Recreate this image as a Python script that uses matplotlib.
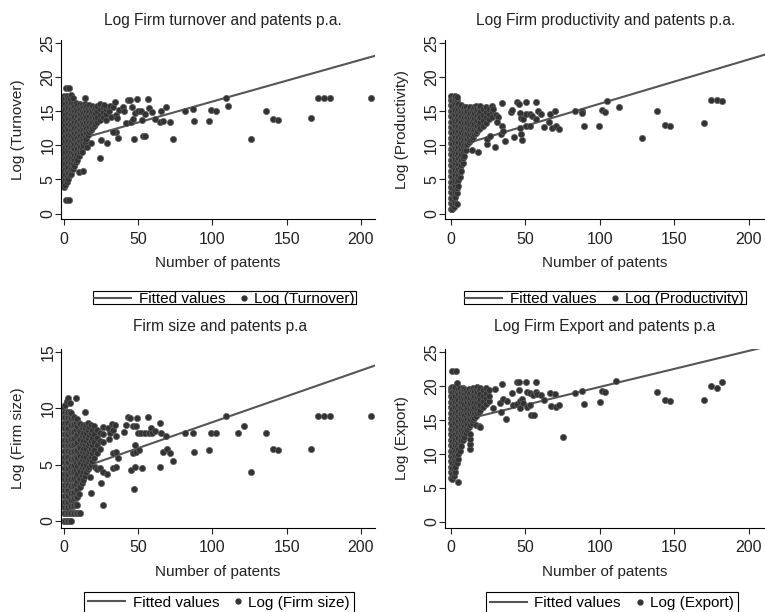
import matplotlib
matplotlib.use('Agg')
import matplotlib.pyplot as plt
from matplotlib.lines import Line2D
from matplotlib.patches import Rectangle
from matplotlib.legend_handler import HandlerBase

plt.rcParams['font.family'] = ['Liberation Sans', 'DejaVu Sans']

# ---- Log (Turnover) vs number of patents
# dense cloud near zero: (patents, [log values])
turnover_cloud = [
    (0, [3.9, 4.7, 5.5, 6.3, 7.1, 7.9, 8.7, 9.5, 10.3, 11.1, 11.9, 12.7, 13.5, 14.3, 15.1, 15.9, 16.6, 17.2]),
    (1, [4.2, 5.0, 5.8, 6.6, 7.4, 8.2, 9.0, 9.8, 10.6, 11.4, 12.2, 13.0, 13.8, 14.6, 15.4, 16.2, 16.9]),
    (2, [4.6, 5.4, 6.2, 7.0, 7.8, 8.6, 9.4, 10.2, 11.0, 11.8, 12.6, 13.4, 14.2, 15.0, 15.8, 16.6, 17.3]),
    (3, [5.1, 5.9, 6.7, 7.5, 8.3, 9.1, 9.9, 10.7, 11.5, 12.3, 13.1, 13.9, 14.7, 15.5, 16.3, 17.0]),
    (4, [5.6, 6.4, 7.2, 8.0, 8.8, 9.6, 10.4, 11.2, 12.0, 12.8, 13.6, 14.4, 15.2, 16.0, 16.8]),
    (5, [5.8, 6.6, 7.4, 8.2, 9.0, 9.8, 10.6, 11.4, 12.2, 13.0, 13.8, 14.6, 15.4, 16.2, 17.4]),
    (6, [6.5, 7.3, 8.1, 8.9, 9.7, 10.5, 11.3, 12.1, 12.9, 13.7, 14.5, 15.3, 16.1, 17.0]),
    (7, [7.0, 7.8, 8.6, 9.4, 10.2, 11.0, 11.8, 12.6, 13.4, 14.2, 15.0, 15.8]),
    (8, [7.5, 8.3, 9.1, 9.9, 10.7, 11.5, 12.3, 13.1, 13.9, 14.7, 15.5, 16.2]),
    (9, [7.9, 8.7, 9.5, 10.3, 11.1, 11.9, 12.7, 13.5, 14.3, 15.1, 15.9]),
    (10, [8.4, 9.2, 10.0, 10.8, 11.6, 12.4, 13.2, 14.0, 14.8, 15.6]),
    (11, [9.0, 9.8, 10.6, 11.4, 12.2, 13.0, 13.8, 14.6, 15.4, 16.1]),
    (12, [9.5, 10.3, 11.1, 11.9, 12.7, 13.5, 14.3, 15.1, 15.9]),
    (13, [10.0, 10.8, 11.6, 12.4, 13.2, 14.0, 14.8, 15.6]),
    (14, [10.5, 11.3, 12.1, 12.9, 13.7, 14.5, 15.3, 16.0]),
    (15, [11.0, 11.8, 12.6, 13.4, 14.2, 15.0, 15.8]),
    (16, [11.5, 12.3, 13.1, 13.9, 14.7, 15.5]),
    (17, [11.9, 12.7, 13.5, 14.3, 15.1, 15.9]),
    (18, [12.3, 13.1, 13.9, 14.7, 15.5]),
    (19, [12.6, 13.4, 14.2, 15.0, 15.8]),
    (20, [12.9, 13.7, 14.5, 15.3]),
    (21, [13.2, 14.0, 14.8, 15.6]),
    (22, [13.4, 14.2, 15.0, 15.8]),
    (24, [13.7, 14.5, 15.3, 16.0]),
    (26, [14.1, 14.9, 15.7]),
    (28, [14.6, 15.4]),
]
turnover_pts = [
    (1.1, 18.4), (3.4, 18.4), (1.6, 2.0), (3.1, 2.0), (14.4, 17.0), (10.1, 6.1),
    (12.6, 6.3), (12.4, 9.1), (15.5, 9.8), (18.2, 10.4), (24.0, 8.2), (25.2, 10.8),
    (29.0, 10.3), (28.5, 13.7), (29.9, 15.6), (27.0, 15.9), (30.5, 15.0), (31.0, 15.8),
    (32.0, 14.2), (33.0, 15.7), (34.8, 11.9), (33.0, 12.0), (34.2, 16.4), (35.3, 14.5),
    (36.0, 14.0), (37.0, 15.2), (36.4, 11.1), (39.8, 15.6), (40.2, 15.0), (42.0, 13.3),
    (43.1, 16.7), (44.7, 16.7), (45.0, 13.5), (45.6, 15.6), (46.5, 13.8), (47.4, 10.9),
    (47.6, 14.7), (49.2, 16.8), (49.9, 15.0), (52.1, 15.0), (52.8, 13.7), (53.3, 11.4),
    (54.4, 14.6), (54.8, 11.4), (56.6, 16.8), (57.3, 15.5), (59.6, 14.9), (61.3, 13.9),
    (64.5, 13.4), (65.4, 15.0), (66.7, 13.6), (68.5, 15.6), (71.7, 13.4), (73.7, 11.0),
    (81.6, 15.0), (86.9, 15.4), (87.6, 13.6), (97.7, 13.6), (99.3, 15.2), (102.2, 15.1),
    (109.0, 16.9), (110.6, 15.8), (126.1, 10.9), (136.2, 15.0), (141.1, 13.9),
    (144.5, 13.75), (166.3, 14.0), (171.2, 16.9), (175.3, 16.9), (179.1, 16.9), (207.0, 16.9),
]
turnover_fit = (10.3, 0.0613)  # intercept, slope

# ---- Log (Productivity)
productivity_cloud = [
    (0, [0.7, 1.5, 2.3, 3.1, 3.9, 4.7, 5.5, 6.3, 7.1, 7.9, 8.7, 9.5, 10.3, 11.1, 11.9, 12.7, 13.5, 14.3, 15.1, 15.9, 16.7, 17.3]),
    (1, [0.6, 1.4, 2.2, 3.0, 3.8, 4.6, 5.4, 6.2, 7.0, 7.8, 8.6, 9.4, 10.2, 11.0, 11.8, 12.6, 13.4, 14.2, 15.0, 15.8, 16.6]),
    (2, [1.0, 1.8, 2.6, 3.4, 4.2, 5.0, 5.8, 6.6, 7.4, 8.2, 9.0, 9.8, 10.6, 11.4, 12.2, 13.0, 13.8, 14.6, 15.4, 16.2, 17.0]),
    (3, [1.6, 2.4, 3.2, 4.0, 4.8, 5.6, 6.4, 7.2, 8.0, 8.8, 9.6, 10.4, 11.2, 12.0, 12.8, 13.6, 14.4, 15.2, 16.0, 16.8, 17.3]),
    (4, [1.4, 3.0, 3.8, 4.6, 5.4, 6.2, 7.0, 7.8, 8.6, 9.4, 10.2, 11.0, 11.8, 12.6, 13.4, 14.2, 15.0, 15.8, 16.6, 17.1]),
    (5, [4.1, 4.9, 5.7, 6.5, 7.3, 8.1, 8.9, 9.7, 10.5, 11.3, 12.1, 12.9, 13.7, 14.5, 15.3, 16.1]),
    (6, [5.3, 6.1, 6.9, 7.7, 8.5, 9.3, 10.1, 10.9, 11.7, 12.5, 13.3, 14.1, 14.9, 15.7]),
    (7, [6.3, 7.1, 7.9, 8.7, 9.5, 10.3, 11.1, 11.9, 12.7, 13.5, 14.3, 15.1, 15.9]),
    (8, [7.4, 8.2, 9.0, 9.8, 10.6, 11.4, 12.2, 13.0, 13.8, 14.6, 15.4]),
    (9, [8.5, 9.3, 10.1, 10.9, 11.7, 12.5, 13.3, 14.1, 14.9, 15.7]),
    (10, [9.3, 10.1, 10.9, 11.7, 12.5, 13.3, 14.1, 14.9, 15.7]),
    (11, [10.2, 11.0, 11.8, 12.6, 13.4, 14.2, 15.0]),
    (12, [10.5, 11.3, 12.1, 12.9, 13.7, 14.5, 15.3]),
    (13, [10.8, 11.6, 12.4, 13.2, 14.0, 14.8, 15.6]),
    (14, [11.0, 11.8, 12.6, 13.4, 14.2, 15.0]),
    (15, [11.3, 12.1, 12.9, 13.7, 14.5, 15.3]),
    (16, [11.6, 12.4, 13.2, 14.0, 14.8, 15.6]),
    (17, [11.8, 12.6, 13.4, 14.2, 15.0, 15.8]),
    (18, [12.1, 12.9, 13.7, 14.5, 15.3]),
    (19, [12.4, 13.2, 14.0, 14.8, 15.6]),
    (20, [12.6, 13.4, 14.2, 15.0, 15.8]),
    (22, [12.9, 13.7, 14.5, 15.3]),
    (24, [13.3, 14.1, 14.9, 15.7]),
    (26, [13.8, 14.6, 15.4]),
    (28, [14.2, 15.0, 15.8]),
]
productivity_pts = [
    (14.5, 9.3), (18.3, 9.1), (24.6, 10.2), (24.6, 10.9), (26.2, 11.4), (29.5, 9.8),
    (28.4, 15.3), (30.2, 14.5), (31.8, 14.1), (31.1, 13.5), (34.0, 11.7), (34.7, 16.2),
    (34.7, 12.8), (35.1, 12.1), (36.2, 10.6), (40.7, 14.9), (41.4, 15.2), (42.3, 11.3),
    (44.5, 16.3), (45.6, 16.0), (46.3, 14.7), (46.7, 12.5), (47.4, 14.0), (47.4, 11.6),
    (48.1, 10.8), (48.5, 13.8), (50.3, 16.3), (50.8, 14.6), (50.8, 12.9), (53.0, 14.6),
    (53.0, 12.9), (54.8, 14.3), (57.0, 13.9), (57.5, 16.4), (58.6, 15.0), (60.6, 14.6),
    (62.9, 12.7), (65.8, 13.4), (67.0, 14.6), (68.0, 12.6), (69.8, 15.0), (70.9, 12.9),
    (72.5, 12.4), (83.2, 15.1), (88.4, 15.1), (88.4, 14.7), (89.5, 12.8), (99.5, 12.9),
    (101.6, 15.2), (103.8, 14.9), (104.9, 16.5), (113.0, 15.6), (128.6, 11.1),
    (138.7, 15.0), (143.6, 13.0), (147.0, 12.9), (169.8, 13.3), (174.9, 16.7),
    (178.7, 16.7), (182.1, 16.5),
]
productivity_fit = (9.6, 0.065)

# ---- Log (Firm size)
size_cloud = [
    (0, [0.0, 0.7, 1.2, 1.7, 2.2, 2.7, 3.2, 3.7, 4.2, 4.7, 5.2, 5.7, 6.2, 6.7, 7.2, 7.7, 8.2, 8.7, 9.2, 9.7, 10.1]),
    (1, [0.0, 0.7, 1.2, 1.7, 2.2, 2.7, 3.2, 3.7, 4.2, 4.7, 5.2, 5.7, 6.2, 6.7, 7.2, 7.7, 8.2, 8.7, 9.2, 9.7, 10.3]),
    (2, [0.0, 0.7, 1.2, 1.7, 2.2, 2.7, 3.2, 3.7, 4.2, 4.7, 5.2, 5.7, 6.2, 6.7, 7.2, 7.7, 8.2, 8.7, 9.2, 9.7, 10.6]),
    (3, [0.0, 0.7, 1.2, 1.7, 2.2, 2.7, 3.2, 3.7, 4.2, 4.7, 5.2, 5.7, 6.2, 6.7, 7.2, 7.7, 8.2, 8.7, 9.2, 9.7, 10.9]),
    (4, [0.0, 0.7, 1.3, 1.9, 2.5, 3.1, 3.7, 4.3, 4.9, 5.5, 6.1, 6.7, 7.3, 7.9, 8.5, 9.1, 9.7, 10.5]),
    (5, [0.0, 0.7, 1.3, 1.9, 2.5, 3.1, 3.7, 4.3, 4.9, 5.5, 6.1, 6.7, 7.3, 7.9, 8.5, 9.1, 9.6]),
    (6, [0.7, 1.3, 1.9, 2.5, 3.1, 3.7, 4.3, 4.9, 5.5, 6.1, 6.7, 7.3, 7.9, 8.5, 9.1]),
    (7, [0.7, 1.4, 2.0, 2.6, 3.2, 3.8, 4.4, 5.0, 5.6, 6.2, 6.8, 7.4, 8.0, 8.6, 9.2]),
    (8, [0.7, 1.5, 2.1, 2.7, 3.3, 3.9, 4.5, 5.1, 5.7, 6.3, 6.9, 7.5, 8.1, 8.7, 10.9]),
    (9, [0.7, 1.4, 2.1, 2.8, 3.5, 4.2, 4.9, 5.6, 6.3, 7.0, 7.7, 8.4, 9.0]),
    (10, [0.7, 2.4, 3.1, 3.8, 4.5, 5.2, 5.9, 6.6, 7.3, 8.0, 8.7]),
    (11, [0.7, 3.0, 3.7, 4.4, 5.1, 5.8, 6.5, 7.2, 7.9, 8.6]),
    (12, [3.4, 4.1, 4.8, 5.5, 6.2, 6.9, 7.6, 8.3]),
    (13, [3.6, 4.3, 5.0, 5.7, 6.4, 7.1, 7.8, 8.5]),
    (14, [4.0, 4.7, 5.4, 6.1, 6.8, 7.5, 8.2, 9.7]),
    (15, [4.3, 5.0, 5.7, 6.4, 7.1, 7.8, 8.5]),
    (16, [4.6, 5.3, 6.0, 6.7, 7.4, 8.1, 8.7]),
    (17, [4.8, 5.5, 6.2, 6.9, 7.6, 8.3]),
    (18, [5.0, 5.7, 6.4, 7.1, 7.8, 8.5]),
    (19, [5.3, 6.0, 6.7, 7.4, 8.1]),
    (20, [5.6, 6.3, 7.0, 7.7, 8.4]),
    (22, [6.0, 6.7, 7.4, 8.1]),
    (24, [6.4, 7.1, 7.8]),
    (26, [7.0, 7.7, 8.3]),
]
size_pts = [
    (17.5, 3.9), (18.4, 2.5), (20.9, 4.8), (22.5, 4.6), (24.0, 4.7), (25.2, 3.4),
    (26.3, 1.4), (26.5, 4.3), (29.0, 4.2), (29.5, 8.2), (30.0, 7.3), (31.0, 7.8),
    (32.5, 8.6), (33.0, 4.7), (34.8, 4.8), (33.0, 6.0), (34.8, 6.1), (36.4, 5.55),
    (35.3, 7.5), (33.0, 8.1), (34.2, 8.5), (40.2, 7.9), (41.6, 8.5), (43.1, 9.2),
    (44.7, 9.1), (45.0, 4.5), (46.5, 6.0), (46.5, 8.4), (47.4, 2.8), (47.6, 6.7),
    (47.6, 4.8), (48.5, 6.1), (48.5, 8.4), (49.2, 9.1), (49.9, 7.77), (50.8, 6.3),
    (52.1, 7.77), (52.8, 4.7), (54.4, 7.77), (56.6, 9.2), (57.3, 7.8), (58.9, 8.2),
    (59.6, 7.77), (61.3, 8.0), (64.5, 8.7), (64.5, 4.8), (65.4, 7.8), (66.7, 6.1),
    (68.5, 7.5), (69.4, 6.4), (71.7, 6.0), (73.7, 5.3), (81.6, 7.77), (86.9, 7.77),
    (87.6, 6.1), (97.7, 6.3), (99.3, 7.77), (102.2, 7.8), (109.0, 9.3), (117.1, 7.8),
    (121.1, 8.45), (126.1, 4.3), (136.2, 7.8), (141.1, 6.35), (144.5, 6.3),
    (166.3, 6.35), (171.2, 9.3), (175.3, 9.3), (179.1, 9.3), (207.0, 9.33),
]
size_fit = (4.17, 0.0459)

# ---- Log (Export)
export_cloud = [
    (0, [6.5, 7.3, 8.1, 8.9, 9.7, 10.5, 11.3, 12.1, 12.9, 13.7, 14.5, 15.3, 16.1, 16.9, 17.7, 18.5, 19.3, 19.8]),
    (1, [6.3, 7.1, 7.9, 8.7, 9.5, 10.3, 11.1, 11.9, 12.7, 13.5, 14.3, 15.1, 15.9, 16.7, 17.5, 18.3, 19.1, 19.9]),
    (2, [6.8, 7.6, 8.4, 9.2, 10.0, 10.8, 11.6, 12.4, 13.2, 14.0, 14.8, 15.6, 16.4, 17.2, 18.0, 18.8, 19.6]),
    (3, [7.3, 8.1, 8.9, 9.7, 10.5, 11.3, 12.1, 12.9, 13.7, 14.5, 15.3, 16.1, 16.9, 17.7, 18.5, 19.3, 19.9]),
    (4, [8.7, 9.5, 10.3, 11.1, 11.9, 12.7, 13.5, 14.3, 15.1, 15.9, 16.7, 17.5, 18.3, 19.1, 20.5]),
    (5, [5.8, 9.2, 10.0, 10.8, 11.6, 12.4, 13.2, 14.0, 14.8, 15.6, 16.4, 17.2, 18.0, 18.8, 19.6]),
    (6, [10.5, 11.3, 12.1, 12.9, 13.7, 14.5, 15.3, 16.1, 16.9, 17.7, 18.5, 19.3, 19.8]),
    (7, [11.2, 12.0, 12.8, 13.6, 14.4, 15.2, 16.0, 16.8, 17.6, 18.4, 19.2]),
    (8, [12.0, 12.8, 13.6, 14.4, 15.2, 16.0, 16.8, 17.6, 18.4, 19.2, 19.7]),
    (9, [12.5, 13.3, 14.1, 14.9, 15.7, 16.5, 17.3, 18.1, 18.9, 19.6]),
    (10, [13.1, 13.9, 14.7, 15.5, 16.3, 17.1, 17.9, 18.7, 19.4]),
    (11, [13.6, 14.4, 15.2, 16.0, 16.8, 17.6, 18.4, 19.2]),
    (12, [14.0, 14.8, 15.6, 16.4, 17.2, 18.0, 18.8, 19.6]),
    (13, [10.8, 11.5, 12.2, 12.9, 14.3, 15.1, 15.9, 16.7, 17.5, 18.3, 19.1]),
    (14, [14.6, 15.4, 16.2, 17.0, 17.8, 18.6, 19.4]),
    (15, [15.0, 15.8, 16.6, 17.4, 18.2, 19.0, 19.8]),
    (16, [15.3, 16.1, 16.9, 17.7, 18.5, 19.3]),
    (17, [14.2, 15.6, 16.4, 17.2, 18.0, 18.8, 19.6]),
    (18, [16.0, 16.8, 17.6, 18.4, 19.2, 19.9]),
    (19, [14.1, 16.2, 17.0, 17.8, 18.6, 19.4]),
    (20, [14.0, 16.5, 17.3, 18.1, 18.9, 19.7]),
    (22, [17.0, 17.8, 18.6, 19.4]),
    (24, [17.4, 18.2, 19.0, 19.7]),
    (26, [17.8, 18.6, 19.4]),
]
export_pts = [
    (0.7, 22.3), (3.4, 22.3), (28.4, 16.8), (29.5, 19.6), (32.9, 17.5), (34.0, 16.2),
    (34.7, 20.4), (35.1, 18.1), (36.9, 15.1), (38.0, 17.8), (41.4, 19.0), (41.8, 17.2),
    (44.5, 20.6), (44.7, 17.4), (45.9, 20.6), (45.9, 19.4), (46.3, 16.8), (46.8, 17.8),
    (48.1, 18.1), (48.5, 17.5), (50.3, 20.6), (51.2, 19.1), (51.4, 16.9), (53.0, 17.3),
    (53.5, 19.0), (54.1, 15.7), (55.3, 18.7), (55.7, 15.8), (57.0, 19.2), (57.5, 20.6),
    (58.2, 18.9), (60.6, 18.7), (62.6, 17.9), (66.9, 19.0), (67.6, 17.1), (70.2, 18.9),
    (70.5, 16.9), (72.7, 17.2), (75.4, 12.5), (83.2, 19.0), (88.4, 19.3), (89.5, 17.4),
    (100.0, 17.65), (101.6, 19.3), (103.8, 19.2), (111.2, 20.7), (138.7, 19.1),
    (143.6, 17.9), (147.0, 17.85), (169.8, 18.0), (174.9, 20.0), (178.7, 19.7), (182.1, 20.6),
]
export_fit = (14.56, 0.0533)

titles = ['Log Firm turnover and patents p.a.', 'Log Firm productivity and patents p.a.',
          'Firm size and patents p.a', 'Log Firm Export and patents p.a']
ylabels = ['Log (Turnover)', 'Log (Productivity)', 'Log (Firm size)', 'Log (Export)']
xticks = [0, 50, 100, 150, 200]


def unpack(cloud, pts):
    xs, ys = [], []
    for x, col in cloud:
        for y in col:
            xs.append(x)
            ys.append(y)
    for x, y in pts:
        xs.append(x)
        ys.append(y)
    return xs, ys


class DotHandler(HandlerBase):
    # small dot sitting at the right end of the handle box (Stata-like legend key)
    def create_artists(self, legend, orig_handle, xdescent, ydescent, width, height, fontsize, trans):
        x = -xdescent + width - 0.16 * fontsize
        y = -ydescent + height / 2
        dot = Line2D([x], [y], ls='none', marker='o', markersize=3.5,
                     markerfacecolor='#333333', markeredgecolor='#333333', transform=trans)
        return [dot]


W, H = 765, 612
fig = plt.figure(figsize=(W / 100, H / 100), dpi=100)

# layout in pixels: (left, bottom, right, top), xlim, ylim, yticks, title centre, legend top-centre
panels = [
    dict(box=(61, 219, 375, 40.4), xlim=(-2, 209.5), ylim=(-0.8, 25.4), yticks=[0, 5, 10, 15, 20, 25],
         title=(223, 20), leg=(224.5, 290.5), cloud=turnover_cloud, pts=turnover_pts, fit=turnover_fit),
    dict(box=(444.7, 219, 765, 40.4), xlim=(-4, 211), ylim=(-0.8, 25.4), yticks=[0, 5, 10, 15, 20, 25],
         title=(606, 20), leg=(604.7, 290.5), cloud=productivity_cloud, pts=productivity_pts, fit=productivity_fit),
    dict(box=(61, 527.7, 375, 349), xlim=(-2, 209.5), ylim=(-0.6, 15.25), yticks=[0, 5, 10, 15],
         title=(220, 327), leg=(219, 591.7), cloud=size_cloud, pts=size_pts, fit=size_fit),
    dict(box=(444.7, 527.7, 765, 349), xlim=(-4, 211), ylim=(-0.9, 25.5), yticks=[0, 5, 10, 15, 20, 25],
         title=(605, 327), leg=(612, 592.3), cloud=export_cloud, pts=export_pts, fit=export_fit),
]

legends = []
for i, p in enumerate(panels):
    l, b, r, t = p['box']
    ax = fig.add_axes([l / W, 1 - b / H, (r - l) / W, (b - t) / H])
    xs, ys = unpack(p['cloud'], p['pts'])
    a, s = p['fit']
    fx = [0, 215]
    ax.plot(fx, [a + s * v for v in fx], color='#555555', lw=1.5, zorder=1)
    ax.scatter(xs, ys, s=20, facecolor='#333333', edgecolor='#5e5e5e', linewidths=0.5, zorder=2)
    ax.set_xlim(*p['xlim'])
    ax.set_ylim(*p['ylim'])
    ax.set_xticks(xticks)
    ax.set_yticks(p['yticks'])
    for side in ['top', 'right']:
        ax.spines[side].set_visible(False)
    ax.tick_params(axis='both', length=4, width=0.8, labelsize=11.5, colors='#222222')
    ax.tick_params(axis='x', pad=5)
    ax.tick_params(axis='y', pad=0)
    for lab in ax.get_yticklabels():
        lab.set_rotation(90)
        lab.set_va('center')
    ax.set_xlabel('Number of patents', fontsize=11, labelpad=7, color='#222222')
    ax.set_ylabel(ylabels[i], fontsize=11, labelpad=11, color='#222222')
    fig.text(p['title'][0] / W, 1 - p['title'][1] / H, titles[i], ha='center', va='center',
             fontsize=11.2, color='#222222')
    line_key = Line2D([], [], color='#555555', lw=1.5)
    dot_key = Line2D([], [], ls='none', marker='o')
    top_row = i < 2
    leg = ax.legend([line_key, dot_key], ['Fitted values', ylabels[i]], ncol=2, loc='upper center',
                    bbox_to_anchor=(p['leg'][0] / W, 1 - p['leg'][1] / H), bbox_transform=fig.transFigure,
                    handler_map={dot_key: DotHandler()},
                    fontsize=11, frameon=True, fancybox=False, edgecolor='black', framealpha=1,
                    handlelength=2.4, handletextpad=0.5, columnspacing=-1.0,
                    borderpad=0.1 if top_row else 0.25, borderaxespad=0)
    leg.get_frame().set_linewidth(0.8)
    legends.append(leg)

# the lower row covers the bottom of the upper legends
fig.canvas.draw()
cut = 304
fig.patches.append(Rectangle((0, 1 - 316 / H), 1, (316 - cut) / H, transform=fig.transFigure,
                             facecolor='white', edgecolor='none', zorder=10))
for leg in legends[:2]:
    bb = leg.get_frame().get_window_extent()
    fig.lines.append(Line2D([bb.x0 / W, bb.x1 / W], [1 - cut / H, 1 - cut / H], transform=fig.transFigure,
                            color='black', lw=0.8, zorder=11))

fig.savefig('out.png', dpi=100)
